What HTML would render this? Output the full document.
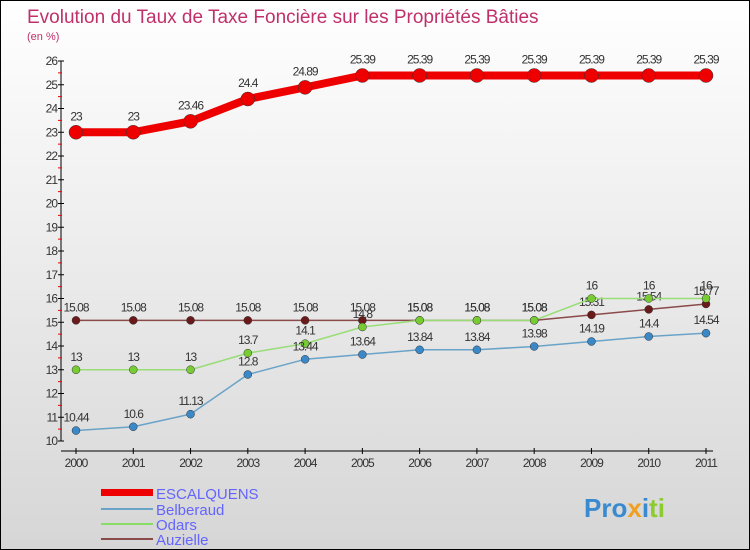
<!DOCTYPE html>
<html><head><meta charset="utf-8"><style>
body{margin:0}
#c{width:748px;height:548px;border:1px solid #000;background:linear-gradient(#fff,#d6d6d6);position:relative;font-family:"Liberation Sans",sans-serif;overflow:hidden}
</style></head><body>
<div id="c">
<svg width="748" height="548" id="s">
<text x="26" y="22" font-size="19" fill="#c0306a">Evolution du Taux de Taxe Foncière sur les Propriétés Bâties</text>
<text x="26" y="39" font-size="11" fill="#c0306a">(en %)</text>
<g id="ax"></g><g id="ser"></g>
<g>
<rect x="100" y="488" width="52" height="7" fill="#e00"/>
<text x="155" y="498" font-size="15" fill="#6464ff">ESCALQUENS</text>
<line x1="100" y1="508" x2="152" y2="508" stroke="#6aa3c8" stroke-width="2"/>
<text x="155" y="514" font-size="15" fill="#6464ff">Belberaud</text>
<line x1="100" y1="523" x2="152" y2="523" stroke="#88dd66" stroke-width="2"/>
<text x="155" y="529" font-size="15" fill="#6464ff">Odars</text>
<line x1="100" y1="538" x2="152" y2="538" stroke="#8a4a4a" stroke-width="2"/>
<text x="155" y="544" font-size="15" fill="#6464ff">Auzielle</text>
</g>
<text x="583" y="516" font-size="26" font-weight="bold"><tspan fill="#3a8ad0">Pro</tspan><tspan fill="#f0a020">x</tspan><tspan fill="#3a8ad0">i</tspan><tspan fill="#8ccc30">ti</tspan></text>
</svg></div>
<script>
const years=[2000,2001,2002,2003,2004,2005,2006,2007,2008,2009,2010,2011];
const escalquens=[23,23,23.46,24.4,24.89,25.39,25.39,25.39,25.39,25.39,25.39,25.39];
const belberaud=[10.44,10.6,11.13,12.8,13.44,13.64,13.84,13.84,13.98,14.19,14.4,14.54];
const odars=[13,13,13,13.7,14.1,14.8,15.08,15.08,15.08,16,16,16];
const auzielle=[15.08,15.08,15.08,15.08,15.08,15.08,15.08,15.08,15.08,15.31,15.54,15.77];
const yTicks=[10,11,12,13,14,15,16,17,18,19,20,21,22,23,24,25,26];
const NS="http://www.w3.org/2000/svg";
const x=i=>75+i*(630/11);
const y=v=>440-(v-10)*23.75;
function mk(t,a,p){const e=document.createElementNS(NS,t);for(const k in a)e.setAttribute(k,a[k]);p.appendChild(e);return e;}
const ax=document.getElementById('ax');
let l=mk('line',{x1:60,y1:y(26),x2:60,y2:y(10),stroke:'#000'},ax);


l=mk('line',{x1:60,y1:450,x2:712,y2:450,stroke:'#000'},ax);


yTicks.forEach(v=>{mk('line',{x1:57,x2:63,y1:y(v),y2:y(v),stroke:'#000'},ax);
 if(v<26)mk('line',{x1:57,x2:61,y1:y(v+0.5),y2:y(v+0.5),stroke:'#e00'},ax);
 const t=mk('text',{x:56,y:y(v)+4,'font-size':12,'text-anchor':'end',fill:'#333','letter-spacing':'-1'},ax);t.textContent=v;
 
 });
years.forEach((yr,i)=>{mk('line',{x1:x(i),x2:x(i),y1:447,y2:453,stroke:'#000'},ax);
 const t=mk('text',{x:x(i),y:466,'font-size':12,'text-anchor':'middle',fill:'#333','letter-spacing':'-1'},ax);t.textContent=yr;
 
 });
const ser=document.getElementById('ser');
function draw(d,name,col,dot,w,r){
 const g=mk('g',{},ser);
 
 
 mk('polyline',{points:d.map((v,i)=>x(i)+','+y(v)).join(' '),fill:'none',stroke:col,'stroke-width':w,'stroke-linejoin':'round'},g);
 d.forEach((v,i)=>{const c=mk('circle',{cx:x(i),cy:y(v),r:r,fill:dot,stroke:'#333','stroke-width':0.5},g);
  
  
  const t=mk('text',{x:x(i),y:y(v)-r-5,'font-size':12,'text-anchor':'middle',fill:'#333','letter-spacing':'-1'},g);t.textContent=v;
  
  });
}
draw(auzielle,'auzielle','#8a4a4a','#6a1a1a',1.5,4);
draw(odars,'odars','#99dd77','#77cc33',1.5,4);
draw(belberaud,'belberaud','#6aa3c8','#3a88c8',1.5,4);
draw(escalquens,'escalquens','#e00','#e00',8,7);
</script>
</body></html>
